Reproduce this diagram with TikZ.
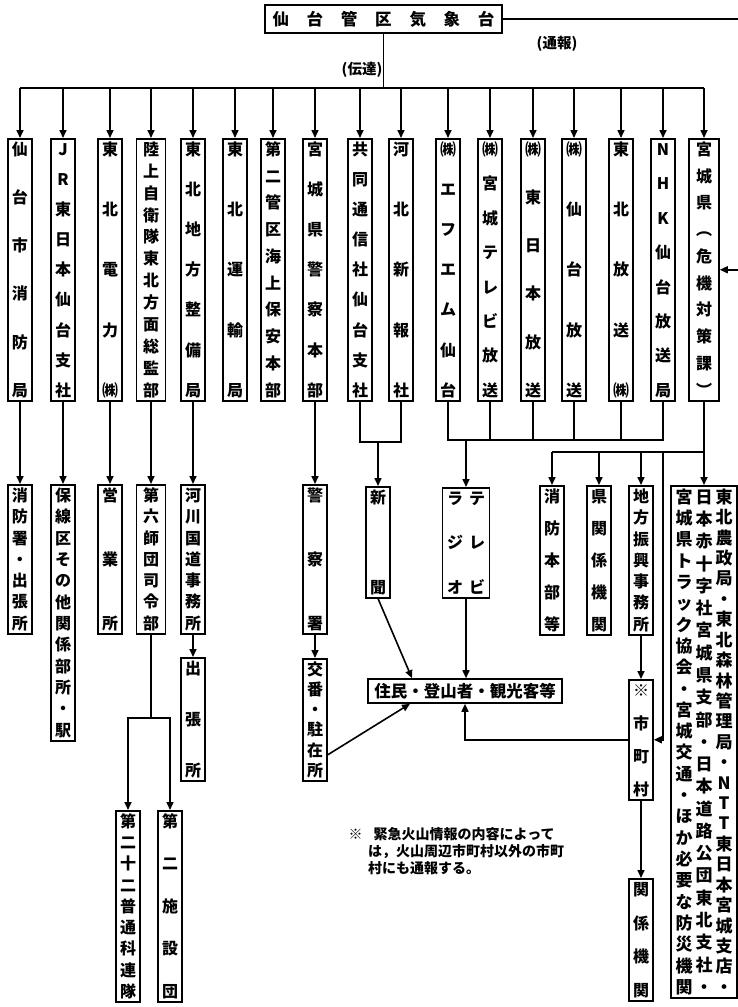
\documentclass[tikz,border=0pt]{standalone}
\usepackage{fontspec}
\setmainfont{Noto Sans CJK JP}
\usetikzlibrary{arrows.meta}

% characters stacked top to bottom, spread over the given height
\newcommand{\vstack}[2]{\vbox to #1{\offinterlineskip
  \foreach \c [count=\i] in {#2}{\ifnum\i>1 \vfill\fi
    \hbox to 1em{\hss\vrule height .88em depth .12em width 0pt\c\hss}}}}
% characters spread left to right over the given width
\newcommand{\hspread}[2]{\hbox to #1{\foreach \c [count=\i] in {#2}{\ifnum\i>1 \hfill\fi\c}}}

\tikzset{
  vb/.style={draw, line width=1.6pt, anchor=north, inner xsep=0pt, inner ysep=2.5pt,
             minimum width=24pt, font=\fontsize{16}{16}\selectfont\bfseries},
  hb/.style={draw, line width=1.6pt, inner sep=0pt, font=\fontsize{16.5}{16.5}\selectfont\bfseries},
  link/.style={line width=1.6pt},
  arr/.style={line width=1.6pt, -{Triangle[length=8pt,width=7pt]}},
  lbl/.style={font=\fontsize{14.5}{14.5}\selectfont\bfseries},
}

\begin{document}
\begin{tikzpicture}[x=1pt, y=-1pt]
  \useasboundingbox (0,0) rectangle (738,1007);

  \node[hb, minimum width=237pt, minimum height=28pt] (met) at (383.5,19)
    {\hspread{222pt}{仙,台,管,区,気,象,台}};
  \node[lbl] (den) at (362,70) {(伝達)};
  \node[lbl] (tsu) at (557,44) {(通報)};

  % first row
  \node[vb] (a1) at (20,138) {\vstack{255pt}{仙,台,市,消,防,局}};
  \node[vb] (a2) at (63,138) {\vstack{255pt}{J,R,東,日,本,仙,台,支,社}};
  \node[vb] (a3) at (110,138) {\vstack{255pt}{東,北,電,力,㈱}};
  \node[vb, minimum width=29pt] (a4) at (151,138) {\vstack{255pt}{陸,上,自,衛,隊,東,北,方,面,総,監,部}};
  \node[vb] (a5) at (193,138) {\vstack{255pt}{東,北,地,方,整,備,局}};
  \node[vb] (a6) at (235,138) {\vstack{255pt}{東,北,運,輸,局}};
  \node[vb] (a7) at (273,138) {\vstack{255pt}{第,二,管,区,海,上,保,安,本,部}};
  \node[vb] (a8) at (315,138) {\vstack{255pt}{宮,城,県,警,察,本,部}};
  \node[vb] (a9) at (360,138) {\vstack{255pt}{共,同,通,信,社,仙,台,支,社}};
  \node[vb] (a10) at (401,138) {\vstack{255pt}{河,北,新,報,社}};
  \node[vb] (a11) at (448,138) {\vstack{255pt}{㈱,エ,フ,エ,ム,仙,台}};
  \node[vb] (a12) at (490,138) {\vstack{255pt}{㈱,宮,城,テ,レ,ビ,放,送}};
  \node[vb] (a13) at (533,138) {\vstack{255pt}{㈱,東,日,本,放,送}};
  \node[vb] (a14) at (574,138) {\vstack{255pt}{㈱,仙,台,放,送}};
  \node[vb] (a15) at (621,138) {\vstack{255pt}{東,北,放,送,㈱}};
  \node[vb] (a16) at (663,138) {\vstack{255pt}{N,H,K,仙,台,放,送,局}};
  \node[vb, minimum width=30pt] (a17) at (704,138) {\vstack{255pt}{宮,城,県,︵,危,機,対,策,課,︶}};

  % second row
  \node[vb] (b1) at (20,484) {\vstack{142pt}{消,防,署,・,出,張,所}};
  \node[vb] (b2) at (63,484) {\vstack{249pt}{保,線,区,そ,の,他,関,係,部,所,・,駅}};
  \node[vb] (b3) at (110,484) {\vstack{142pt}{営,業,所}};
  \node[vb, minimum width=29pt] (b4) at (151,484) {\vstack{142pt}{第,六,師,団,司,令,部}};
  \node[vb] (b5) at (193,484) {\vstack{142pt}{河,川,国,道,事,務,所}};
  \node[vb] (c5) at (193,657) {\vstack{116pt}{出,張,所}};
  \node[vb] (b8) at (315,484) {\vstack{142pt}{警,察,署}};
  \node[vb] (c8) at (315,658) {\vstack{115pt}{交,番,・,駐,在,所}};
  \node[vb] (c1) at (128,810) {\vstack{184pt}{第,二,十,二,普,通,科,連,隊}};
  \node[vb] (c2) at (170,810) {\vstack{184pt}{第,二,施,設,団}};
  \node[vb] (nw) at (378,486) {\vstack{104pt}{新,聞}};
  \node[vb, minimum width=47pt] (rt) at (466,487)
    {\vstack{103pt}{ラ,ジ,オ}\hspace{6pt}\vstack{103pt}{テ,レ,ビ}};
  \node[vb] (d1) at (552,485) {\vstack{142pt}{消,防,本,部,等}};
  \node[vb] (d2) at (599,485) {\vstack{142pt}{県,関,係,機,関}};
  \node[vb] (d3) at (641,485) {\vstack{142pt}{地,方,振,興,事,務,所}};
  \node[vb] (mu) at (641,679) {\vstack{113pt}{※,市,町,村}};
  \node[vb] (ek) at (641,878) {\vstack{115pt}{関,係,機,関}};
  \node[vb, minimum width=66pt, font=\fontsize{17}{17}\selectfont\bfseries] (bg) at (704,485)
    {\vstack{505pt}{宮,城,県,ト,ラ,ッ,ク,協,会,・,宮,城,交,通,・,ほ,か,必,要,な,防,災,機,関}\hspace{3pt}%
     \vstack{505pt}{日,本,赤,十,字,社,宮,城,県,支,部,・,日,本,道,路,公,団,東,北,支,社,・}\hspace{3pt}%
     \vstack{505pt}{東,北,農,政,局,・,東,北,森,林,管,理,局,・,N,T,T,東,日,本,宮,城,支,店,・}};

  \node[hb, minimum width=194pt, minimum height=24pt] (res) at (465,691) {住民・登山者・観光客等};

  \node[lbl, font=\fontsize{14}{17}\selectfont\bfseries, anchor=north west, align=left] (nt) at (345,824)
    {※\hspace{0.8em}緊急火山情報の内容によって\\
     \hspace{1.4em}は，火山周辺市町村以外の市町\\
     \hspace{1.4em}村にも通報する。};

  % from the observatory
  \coordinate (bus) at (0,88);
  \coordinate (edge) at (738,0);
  \draw[link] (met.south) -- (met.south |- bus);
  \draw[link] (a1.north |- bus) -- (a17.north |- bus);
  \foreach \n in {a1,a2,a3,a4,a5,a6,a7,a8,a9,a10,a11,a12,a13,a14,a15,a16,a17}
    \draw[arr] (\n.north |- bus) -- (\n.north);
  \draw[link] (met.east) -- (met.east -| edge);
  \draw[arr] (a17.east -| edge) -- (a17.east);

  % down the columns
  \draw[arr] (a1) -- (b1);
  \draw[arr] (a2) -- (b2);
  \draw[arr] (a3) -- (b3);
  \draw[arr] (a4) -- (b4);
  \draw[arr] (a5) -- (b5);
  \draw[arr] (b5) -- (c5);
  \draw[arr] (a8) -- (b8);
  \draw[arr] (b8) -- (c8);
  \coordinate (fk) at (151,718);
  \draw[link] (b4) -- (fk);
  \draw[arr] (fk) -| (c1);
  \draw[arr] (fk) -| (c2);

  % press and broadcasters
  \coordinate (m1) at (0,442);
  \coordinate (m2) at (0,440);
  \draw[link] (a9) -- (a9 |- m1) -- (a10 |- m1) -- (a10);
  \draw[arr] (nw |- m1) -- (nw);
  \draw[link] (a11) -- (a11 |- m2) -- (a16 |- m2) -- (a16);
  \foreach \n in {a12,a13,a14,a15}
    \draw[link] (\n) -- (\n |- m2);
  \draw[arr] (rt |- m2) -- (rt);

  % prefecture
  \coordinate (m3) at (0,452);
  \coordinate (tap) at (663,452);
  \draw[link] (a17) -- (a17 |- m3) -- (d1 |- m3);
  \foreach \n in {d1,d2,d3}
    \draw[arr] (\n |- m3) -- (\n);
  \draw[arr] (a17 |- m3) -- (bg);
  \draw[arr] (tap) |- (mu.east);
  \draw[arr] (d3) -- (mu);
  \draw[arr] (mu) -- (ek);

  % to the residents
  \draw[arr] (nw.south) -- ([xshift=-53pt]res.north);
  \draw[arr] (rt) -- (rt |- res.north);
  \draw[arr] ([yshift=-35pt]c8.east) -- ([xshift=-55pt]res.south);
  \draw[arr] (mu.west) -| (res.south);
\end{tikzpicture}
\end{document}
